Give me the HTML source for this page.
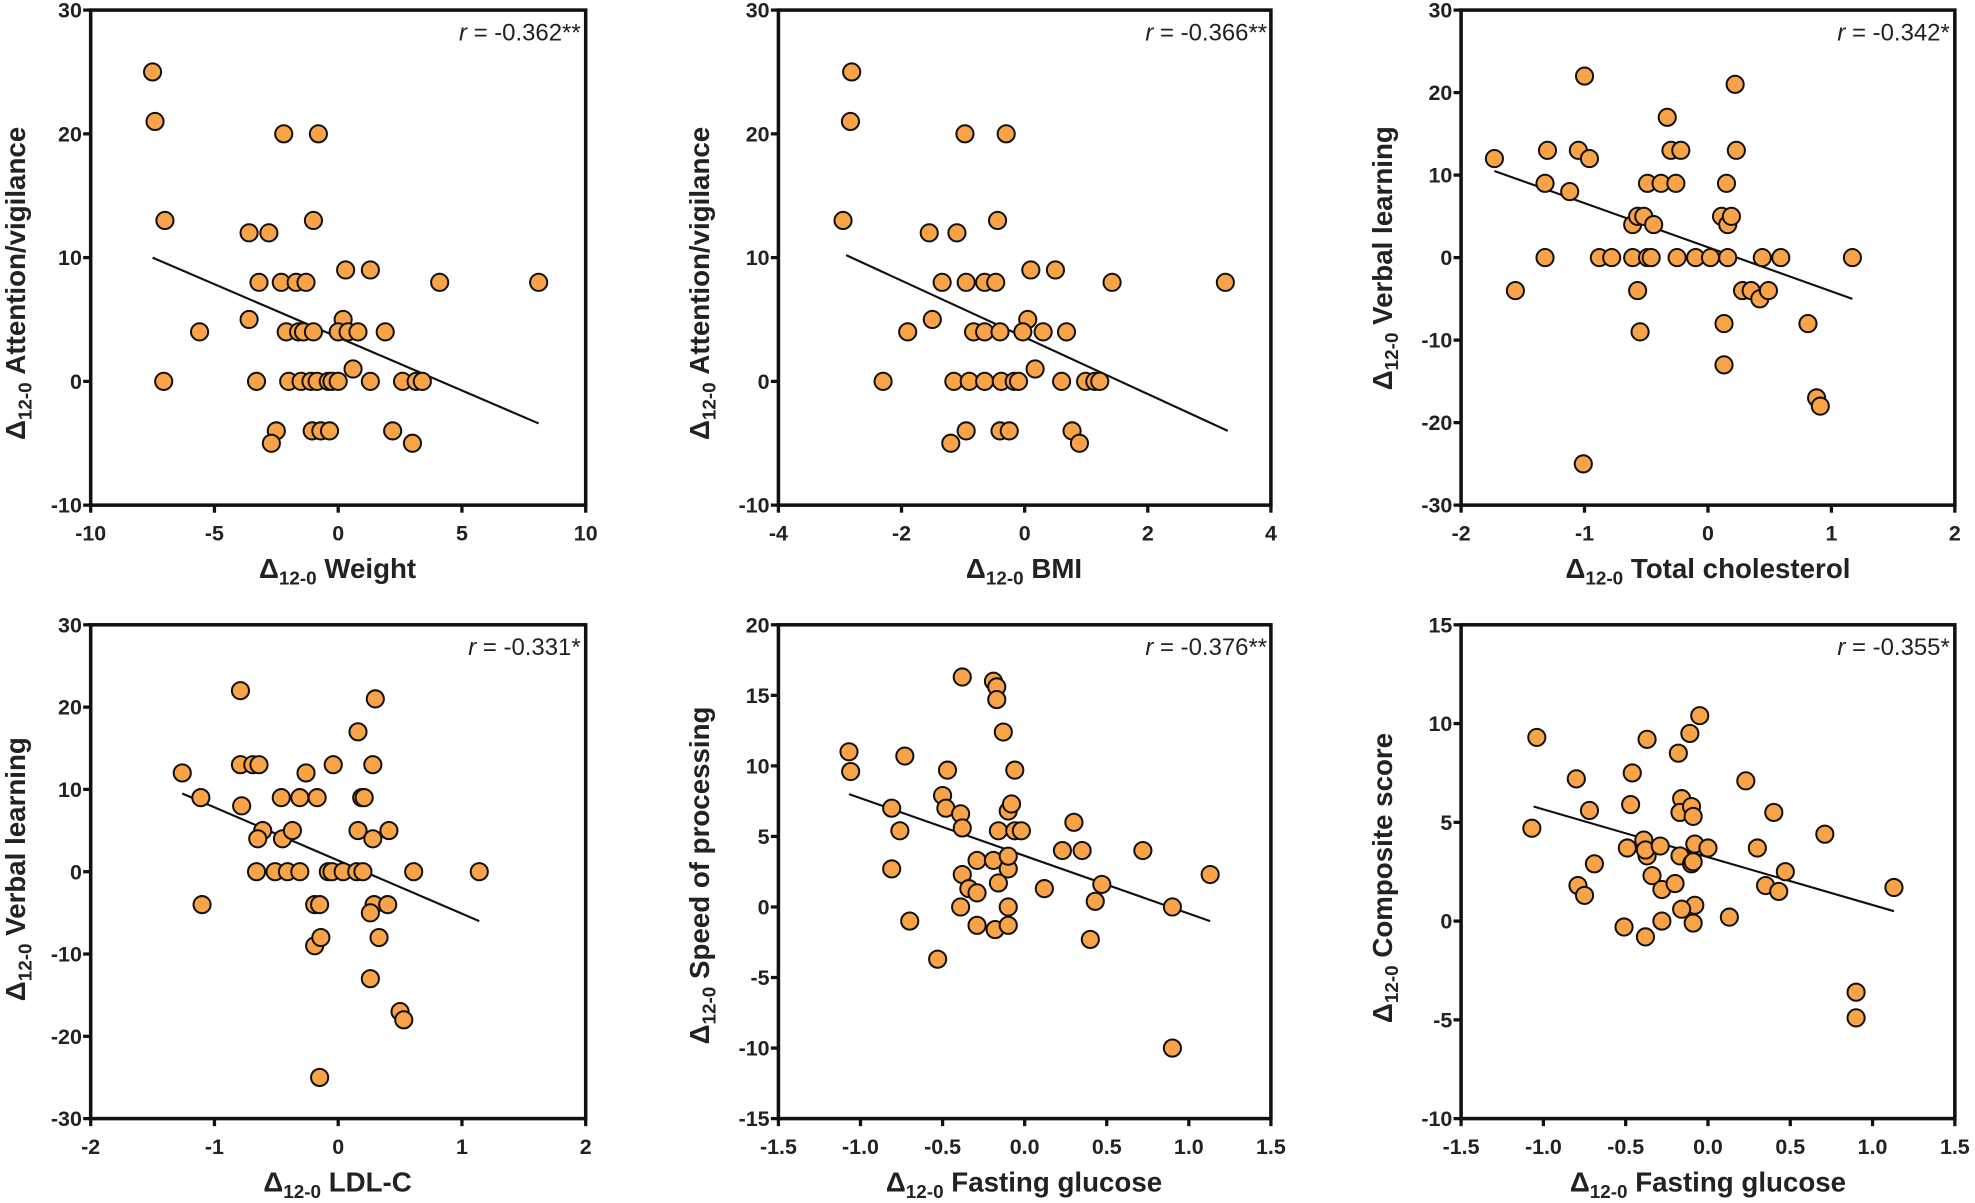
<!DOCTYPE html>
<html><head><meta charset="utf-8"><style>
html,body{margin:0;padding:0;background:#fff;}
svg{display:block;}
text{font-family:"Liberation Sans",Arial,sans-serif;}
.tk{font-size:17px;font-weight:bold;fill:#222;}
.xl{font-size:22px;font-weight:bold;fill:#222;}
.rl{font-size:19px;fill:#222;}
</style></head><body>
<svg id="s" width="1975" height="1203" viewBox="0 0 1568 955" preserveAspectRatio="none" xmlns="http://www.w3.org/2000/svg">
<g id="g"></g>
<text class="xl" x="268" y="459" text-anchor="middle">Δ<tspan font-size="15" dy="5">12-0</tspan><tspan dy="-5"> Weight</tspan></text>
<text class="xl" x="813" y="459" text-anchor="middle">Δ<tspan font-size="15" dy="5">12-0</tspan><tspan dy="-5"> BMI</tspan></text>
<text class="xl" x="1356" y="459" text-anchor="middle">Δ<tspan font-size="15" dy="5">12-0</tspan><tspan dy="-5"> Total cholesterol</tspan></text>
<text class="xl" x="268" y="946" text-anchor="middle">Δ<tspan font-size="15" dy="5">12-0</tspan><tspan dy="-5"> LDL-C</tspan></text>
<text class="xl" x="813" y="946" text-anchor="middle">Δ<tspan font-size="15" dy="5">12-0</tspan><tspan dy="-5"> Fasting glucose</tspan></text>
<text class="xl" x="1356" y="946" text-anchor="middle">Δ<tspan font-size="15" dy="5">12-0</tspan><tspan dy="-5"> Fasting glucose</tspan></text>
<text class="xl" transform="translate(20,225) rotate(-90)" text-anchor="middle">Δ<tspan font-size="15" dy="5">12-0</tspan><tspan dy="-5"> Attention/vigilance</tspan></text>
<text class="xl" transform="translate(563,225) rotate(-90)" text-anchor="middle">Δ<tspan font-size="15" dy="5">12-0</tspan><tspan dy="-5"> Attention/vigilance</tspan></text>
<text class="xl" transform="translate(1105,205) rotate(-90)" text-anchor="middle">Δ<tspan font-size="15" dy="5">12-0</tspan><tspan dy="-5"> Verbal learning</tspan></text>
<text class="xl" transform="translate(20,690) rotate(-90)" text-anchor="middle">Δ<tspan font-size="15" dy="5">12-0</tspan><tspan dy="-5"> Verbal learning</tspan></text>
<text class="xl" transform="translate(563,695) rotate(-90)" text-anchor="middle">Δ<tspan font-size="15" dy="5">12-0</tspan><tspan dy="-5"> Speed of processing</tspan></text>
<text class="xl" transform="translate(1105,697) rotate(-90)" text-anchor="middle">Δ<tspan font-size="15" dy="5">12-0</tspan><tspan dy="-5"> Composite score</tspan></text>
<text class="rl" x="461" y="32" text-anchor="end"><tspan font-style="italic">r</tspan> = -0.362**</text>
<text class="rl" x="1006" y="32" text-anchor="end"><tspan font-style="italic">r</tspan> = -0.366**</text>
<text class="rl" x="1548" y="32" text-anchor="end"><tspan font-style="italic">r</tspan> = -0.342*</text>
<text class="rl" x="461" y="520" text-anchor="end"><tspan font-style="italic">r</tspan> = -0.331*</text>
<text class="rl" x="1006" y="520" text-anchor="end"><tspan font-style="italic">r</tspan> = -0.376**</text>
<text class="rl" x="1548" y="520" text-anchor="end"><tspan font-style="italic">r</tspan> = -0.355*</text>
</svg>
<script>
var NS="http://www.w3.org/2000/svg",G=document.getElementById('g');
function el(t,a,txt){var e=document.createElementNS(NS,t);for(var k in a)e.setAttribute(k,a[k]);if(txt!==undefined)e.textContent=txt;G.appendChild(e);return e;}
function P(o){
 var L=o.L,R=o.R,T=o.T,B=o.B;
 function X(v){return L+(v-o.x0)/(o.x1-o.x0)*(R-L);}
 function Y(v){return B-(v-o.y0)/(o.y1-o.y0)*(B-T);}
 o.xt.forEach(function(v,i){var x=X(v);el('line',{x1:x,y1:B,x2:x,y2:B+6,stroke:'#111','stroke-width':2.6});el('text',{x:x,y:B+28,'text-anchor':'middle','class':'tk'},o.xl[i]);});
 o.yt.forEach(function(v){var y=Y(v);el('line',{x1:L-6,y1:y,x2:L,y2:y,stroke:'#111','stroke-width':2.6});el('text',{x:L-7,y:y+6,'text-anchor':'end','class':'tk'},String(v));});
 el('rect',{x:L,y:T,width:R-L,height:B-T,fill:'none',stroke:'#111','stroke-width':2.8});
 el('line',{x1:X(o.ln[0]),y1:Y(o.ln[1]),x2:X(o.ln[2]),y2:Y(o.ln[3]),stroke:'#111','stroke-width':1.7});
 for(var i=0;i<o.p.length;i+=2)el('circle',{cx:X(o.p[i]),cy:Y(o.p[i+1]),r:6.8,fill:'#F9A348',stroke:'#111','stroke-width':1.6});
}
P({L:72,R:465,T:8,B:401,x0:-10,x1:10,y0:-10,y1:30,xt:[-10,-5,0,5,10],xl:['-10','-5','0','5','10'],yt:[-10,0,10,20,30],ln:[-7.5,10,8.1,-3.4],
p:[-7.5,25,-7.4,21,-7,13,-7.05,0,-5.6,4,-3.6,12,-2.8,12,-2.2,20,-0.8,20,-1,13,-3.2,8,-2.3,8,-1.7,8,-1.3,8,0.3,9,1.3,9,4.1,8,8.1,8,-3.6,5,0.2,5,
-2.1,4,-1.6,4,-1.4,4,-1,4,0,4,0.4,4,0.8,4,1.9,4,0.6,1,-3.3,0,-2,0,-1.5,0,-1.1,0,-0.85,0,-0.4,0,-0.25,0,0,0,1.3,0,2.6,0,3.15,0,3.4,0,
-2.5,-4,-1.05,-4,-0.7,-4,-0.35,-4,2.2,-4,-2.7,-5,3,-5]});
P({L:618,R:1009,T:8,B:401,x0:-4,x1:4,y0:-10,y1:30,xt:[-4,-2,0,2,4],xl:['-4','-2','0','2','4'],yt:[-10,0,10,20,30],ln:[-2.9,10.2,3.3,-4],
p:[-2.81,25,-2.83,21,-2.95,13,-2.3,0,-1.9,4,-1.5,5,-1.55,12,-1.1,12,-0.97,20,-0.3,20,-0.44,13,-1.34,8,-0.95,8,-0.65,8,-0.47,8,0.1,9,0.5,9,1.42,8,3.26,8,0.05,5,
-0.83,4,-0.65,4,-0.4,4,-0.03,4,0.3,4,0.68,4,0.17,1,-1.15,0,-0.9,0,-0.65,0,-0.38,0,-0.17,0,-0.1,0,0.6,0,0.99,0,1.14,0,1.22,0,
-0.95,-4,-0.4,-4,-0.25,-4,0.77,-4,-1.2,-5,0.89,-5]});
P({L:1160,R:1552,T:8,B:401,x0:-2,x1:2,y0:-30,y1:30,xt:[-2,-1,0,1,2],xl:['-2','-1','0','1','2'],yt:[-30,-20,-10,0,10,20,30],ln:[-1.73,10.5,1.17,-5],
p:[-1.73,12,-1.56,-4,-1.3,13,-1.32,9,-1.32,0,-1.05,13,-1.12,8,-0.96,12,-1,22,-1.01,-25,-0.88,0,-0.78,0,-0.61,4,-0.57,5,-0.52,5,-0.57,-4,-0.55,-9,-0.61,0,-0.49,0,-0.46,0,
-0.49,9,-0.38,9,-0.44,4,-0.33,17,-0.3,13,-0.22,13,-0.26,9,-0.25,0,-0.1,0,0.02,0,0.16,0,0.11,5,0.16,4,0.19,5,0.15,9,0.22,21,0.23,13,0.13,-8,0.13,-13,
0.28,-4,0.35,-4,0.42,-5,0.49,-4,0.44,0,0.59,0,0.81,-8,0.88,-17,0.91,-18,1.17,0]});
P({L:72,R:465,T:496,B:888,x0:-2,x1:2,y0:-30,y1:30,xt:[-2,-1,0,1,2],xl:['-2','-1','0','1','2'],yt:[-30,-20,-10,0,10,20,30],ln:[-1.26,9.5,1.14,-6],
p:[-1.26,12,-1.11,9,-1.1,-4,-0.79,22,-0.79,13,-0.78,8,-0.69,13,-0.64,13,-0.61,5,-0.65,4,-0.66,0,-0.51,0,-0.46,9,-0.45,4,-0.41,0,-0.37,5,-0.31,9,-0.31,0,-0.26,12,-0.17,9,
-0.19,-4,-0.15,-4,-0.19,-9,-0.14,-8,-0.15,-25,-0.08,0,-0.04,13,-0.05,0,0.04,0,0.15,0,0.2,0,0.16,17,0.16,5,0.19,9,0.21,9,0.28,13,0.28,4,0.3,21,0.29,-4,0.26,-5,0.26,-13,
0.33,-8,0.4,-4,0.41,5,0.61,0,1.14,0,0.5,-17,0.53,-18]});
P({L:618,R:1009,T:496,B:888,x0:-1.5,x1:1.5,y0:-15,y1:20,xt:[-1.5,-1,-0.5,0,0.5,1,1.5],xl:['-1.5','-1.0','-0.5','0.0','0.5','1.0','1.5'],yt:[-15,-10,-5,0,5,10,15,20],ln:[-1.07,8,1.13,-1],
p:[-1.07,11,-1.06,9.6,-0.73,10.7,-0.81,7,-0.76,5.4,-0.81,2.7,-0.7,-1,-0.53,-3.7,-0.5,7.9,-0.47,9.7,-0.48,7,-0.38,16.3,-0.39,6.6,-0.38,5.6,-0.38,2.3,-0.39,0,-0.34,1.3,-0.29,3.3,-0.29,1,-0.29,-1.3,
-0.19,3.3,-0.19,16,-0.17,15.6,-0.17,14.7,-0.18,-1.6,-0.16,5.4,-0.16,1.7,-0.13,12.4,-0.1,2.7,-0.1,0,-0.1,-1.3,-0.1,3.6,-0.1,6.8,-0.08,7.3,-0.06,9.7,-0.06,5.4,-0.02,5.4,
0.12,1.3,0.23,4,0.3,6,0.35,4,0.4,-2.3,0.43,0.4,0.47,1.6,0.72,4,0.9,0,0.9,-10,1.13,2.3]});
P({L:1160,R:1552,T:496,B:888,x0:-1.5,x1:1.5,y0:-10,y1:15,xt:[-1.5,-1,-0.5,0,0.5,1,1.5],xl:['-1.5','-1.0','-0.5','0.0','0.5','1.0','1.5'],yt:[-10,-5,0,5,10,15],ln:[-1.06,5.8,1.13,0.5],
p:[-1.04,9.3,-1.07,4.7,-0.8,7.2,-0.79,1.8,-0.75,1.3,-0.72,5.6,-0.69,2.9,-0.51,-0.3,-0.46,7.5,-0.47,5.9,-0.49,3.7,-0.39,4.1,-0.37,9.2,-0.37,3.3,-0.38,-0.8,-0.34,2.3,-0.38,3.6,-0.29,3.8,-0.28,1.6,-0.28,0,
-0.17,3.3,-0.18,8.5,-0.16,6.2,-0.17,5.5,-0.1,2.9,-0.2,1.9,-0.11,9.5,-0.1,5.8,-0.09,5.3,-0.09,3,-0.08,0.8,-0.09,-0.1,-0.08,3.9,-0.05,10.4,0,3.7,0.13,0.2,0.23,7.1,0.3,3.7,0.4,5.5,0.35,1.8,0.43,1.5,0.47,2.5,0.71,4.4,0.9,-3.6,0.9,-4.9,1.13,1.7,
-0.16,0.6]});
</script>
</body></html>
